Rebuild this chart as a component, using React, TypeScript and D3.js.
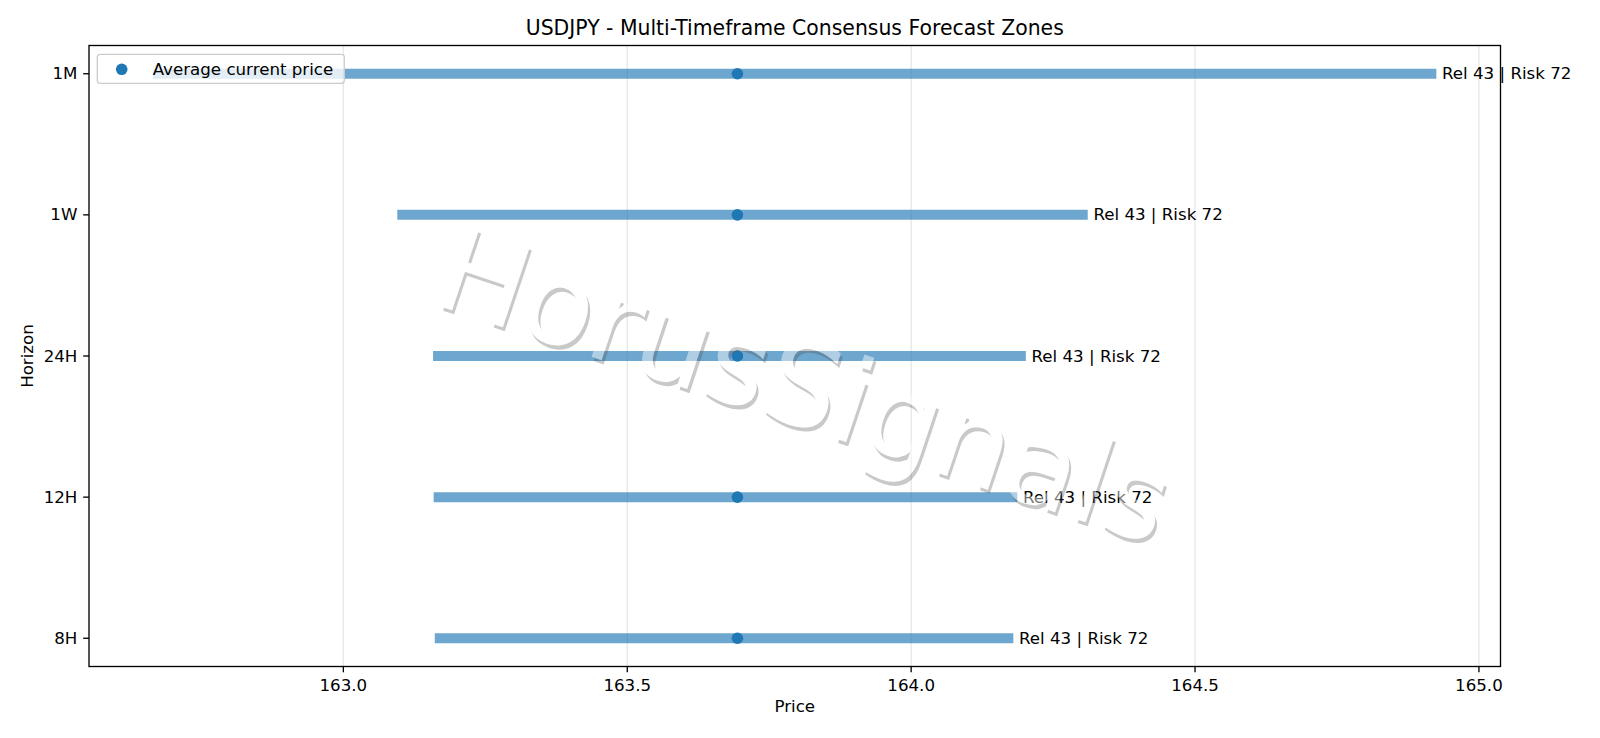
import React, { useEffect } from "react";
import * as d3 from "d3";

// forecast zones per horizon
const horizons = ["8H", "12H", "24H", "1W", "1M"];
const zoneLow = [163.161, 163.159, 163.158, 163.095, 162.665];
const zoneHigh = [164.18, 164.187, 164.202, 164.311, 164.925];
const currentPrice = [163.694, 163.694, 163.694, 163.694, 163.694];
const reliability = [43, 43, 43, 43, 43];
const riskScore = [72, 72, 72, 72, 72];
const xTicks = [163.0, 163.5, 164.0, 164.5, 165.0];

const W = 1600;
const H = 738;
const FONT = "DejaVu Sans, Liberation Sans, sans-serif";
const BLUE = "#1f77b4";

export default function App() {
  useEffect(() => {
    document.body.style.margin = "0";
  }, []);

  const left = 89, right = 1500.5, top = 45.5, bottom = 666.5;

  const lo = d3.min(zoneLow) as number;
  const hi = d3.max(zoneHigh) as number;
  const pad = (hi - lo) * 0.05;
  const x = d3.scaleLinear().domain([lo - pad, hi + pad]).range([left, right]);
  const y = d3.scaleLinear().domain([-0.2, horizons.length - 1 + 0.2]).range([bottom, top]);

  const tickLen = 5.8;
  const fs = 16.67;
  const wm = { x: 792, y: 424, size: 117, angle: 18.5, dx: 3.3, dy: 3.3 };

  return (
    <svg width={W} height={H} style={{ display: "block" }} fontFamily={FONT}>
      <defs>
        {/* shadow only shows outside the letters */}
        <mask id="wm-cut" maskUnits="userSpaceOnUse" x={0} y={0} width={W} height={H}>
          <rect x={0} y={0} width={W} height={H} fill="#fff" />
          <g transform={`rotate(${wm.angle}, ${wm.x}, ${wm.y})`}>
            <text x={wm.x} y={wm.y} textAnchor="middle" fontSize={wm.size} fill="#000">HorusSignals</text>
          </g>
        </mask>
      </defs>
      <rect x={0} y={0} width={W} height={H} fill="#fff" />

      {/* vertical grid */}
      {xTicks.map((t) => (
        <line key={"g" + t} x1={x(t)} x2={x(t)} y1={top} y2={bottom}
          stroke="#b0b0b0" strokeOpacity={0.3} strokeWidth={1.33} />
      ))}

      {/* zones */}
      {horizons.map((h, i) => (
        <line key={"z" + h} x1={x(zoneLow[i])} x2={x(zoneHigh[i])} y1={y(i)} y2={y(i)}
          stroke={BLUE} strokeOpacity={0.65} strokeWidth={10} />
      ))}
      {horizons.map((h, i) => (
        <circle key={"c" + h} cx={x(currentPrice[i])} cy={y(i)} r={5.8} fill={BLUE} />
      ))}
      {horizons.map((h, i) => (
        <text key={"t" + h} x={x(zoneHigh[i] + 0.01)} y={y(i)} fontSize={fs}
          dominantBaseline="central" fill="#000">
          {`Rel ${reliability[i]} | Risk ${riskScore[i]}`}
        </text>
      ))}

      {/* watermark */}
      <g mask="url(#wm-cut)">
        <g transform={`rotate(${wm.angle}, ${wm.x}, ${wm.y})`}>
          <text x={wm.x + wm.dx} y={wm.y + wm.dy} textAnchor="middle" fontSize={wm.size}
            fill="rgb(76,76,76)" fillOpacity={0.3}>HorusSignals</text>
        </g>
      </g>
      <g transform={`rotate(${wm.angle}, ${wm.x}, ${wm.y})`}>
        <text x={wm.x} y={wm.y} textAnchor="middle" fontSize={wm.size}
          fill="#fff" fillOpacity={0.45}>HorusSignals</text>
      </g>

      {/* spines */}
      <rect x={left} y={top} width={right - left} height={bottom - top}
        fill="none" stroke="#000" strokeWidth={1.33} />

      {/* x axis */}
      {xTicks.map((t) => (
        <g key={"x" + t}>
          <line x1={x(t)} x2={x(t)} y1={bottom} y2={bottom + tickLen} stroke="#000" strokeWidth={1.33} />
          <text x={x(t)} y={690.5} textAnchor="middle" fontSize={fs}>{t.toFixed(1)}</text>
        </g>
      ))}
      <text x={(left + right) / 2} y={712} textAnchor="middle" fontSize={fs}>Price</text>

      {/* y axis */}
      {horizons.map((h, i) => (
        <g key={"y" + h}>
          <line x1={left - tickLen} x2={left} y1={y(i)} y2={y(i)} stroke="#000" strokeWidth={1.33} />
          <text x={left - tickLen - 5.8} y={y(i)} textAnchor="end" dominantBaseline="central" fontSize={fs}>{h}</text>
        </g>
      ))}
      <text transform={`translate(33, ${(top + bottom) / 2}) rotate(-90)`} textAnchor="middle"
        fontSize={fs}>Horizon</text>

      {/* title */}
      <text x={(left + right) / 2} y={35} textAnchor="middle" fontSize={20.4}>
        USDJPY - Multi-Timeframe Consensus Forecast Zones
      </text>

      {/* legend */}
      <rect x={97.3} y={54.3} width={247} height={29} rx={3} fill="#fff" fillOpacity={0.8}
        stroke="#cccccc" strokeWidth={1.33} />
      <circle cx={121.7} cy={69.3} r={5.8} fill={BLUE} />
      <text x={152.7} y={69.3} dominantBaseline="central" fontSize={fs}>Average current price</text>
    </svg>
  );
}
